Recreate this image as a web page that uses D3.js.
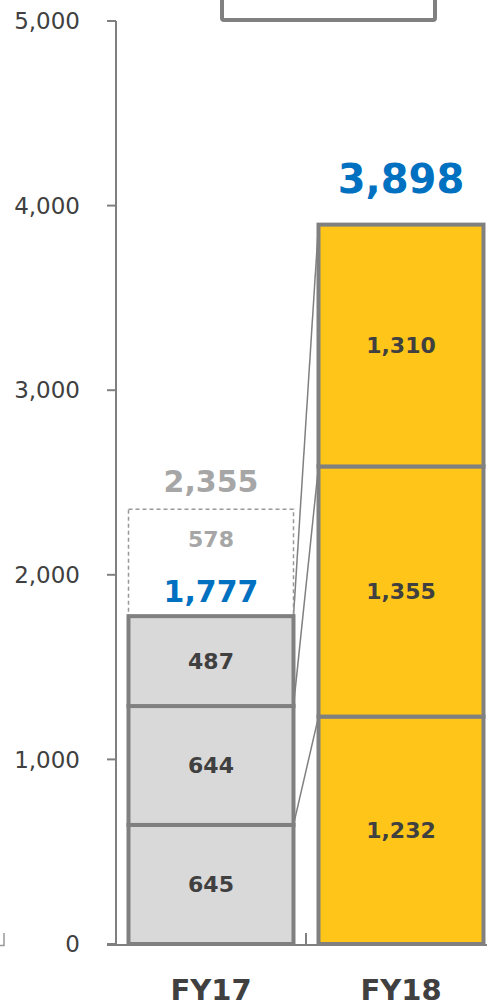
<!DOCTYPE html>
<html>
<head>
<script src="https://cdnjs.cloudflare.com/ajax/libs/d3/7.8.5/d3.min.js"></script>
<style>
  body { margin: 0; background: #fff; }
  text { font-family: "DejaVu Sans", Verdana, sans-serif; }
</style>
</head>
<body>
<div id="vis"></div>
<script>
const categories = ["FY17", "FY18"];
const fy17Parts = [645, 644, 487];
const fy18Parts = [1232, 1355, 1310];
const fy17Total = 1777;
const fy18Total = 3898;
const fy17Extra = 578;
const fy17Outlook = 2355;
const yTicks = [0, 1000, 2000, 3000, 4000, 5000];

const W = 487, H = 1007;
const svg = d3.select("#vis").append("svg").attr("width", W).attr("height", H);

const y = d3.scaleLinear().domain([0, 5000]).range([944, 21]);
const x = d3.scaleBand().domain(categories).range([116, 496])
    .paddingInner(0.1316).paddingOuter(0.0658);

const grey = "#808080";

// legend box cut off at the top
svg.append("rect")
    .attr("x", 222).attr("y", -12).attr("width", 213).attr("height", 32)
    .attr("rx", 2)
    .style("fill", "#fff").style("stroke", grey).style("stroke-width", 4);

// little hook at bottom left
svg.append("path").attr("d", "M0,945.5 H4 V933")
    .style("fill", "none").style("stroke", "#999").style("stroke-width", 1.5);

// y axis
svg.append("line").attr("x1", 116).attr("x2", 116).attr("y1", y(5000)).attr("y2", y(0))
    .style("stroke", grey).style("stroke-width", 2);
svg.selectAll(".ytick").data(yTicks).enter().append("line")
    .attr("x1", 107).attr("x2", 116).attr("y1", d => y(d)).attr("y2", d => y(d))
    .style("stroke", grey).style("stroke-width", 2);
svg.selectAll(".ylab").data(yTicks).enter().append("text")
    .attr("x", 80).attr("y", d => y(d)).attr("dy", "0.36em")
    .attr("text-anchor", "end")
    .style("font-size", "23px").style("fill", "#404040")
    .text(d => d3.format(",")(d));

// x axis baseline + category divider tick
svg.append("line").attr("x1", 107).attr("x2", W).attr("y1", y(0) + 1).attr("y2", y(0) + 1)
    .style("stroke", grey).style("stroke-width", 2);
const divX = x("FY17") + x.bandwidth() + (x.step() - x.bandwidth()) / 2;
svg.append("line")
    .attr("x1", divX).attr("x2", divX)
    .attr("y1", y(0) - 11).attr("y2", y(0))
    .style("stroke", grey).style("stroke-width", 2);

function stack(parts) {
  let acc = 0;
  return parts.map(v => { const s = {v: v, y0: acc, y1: acc + v}; acc += v; return s; });
}
const s17 = stack(fy17Parts), s18 = stack(fy18Parts);

// connector lines
const x17r = x("FY17") + x.bandwidth(), x18l = x("FY18");
svg.selectAll(".conn").data(d3.range(3)).enter().append("line")
    .attr("x1", x17r).attr("y1", i => y(s17[i].y1))
    .attr("x2", x18l).attr("y2", i => y(s18[i].y1))
    .style("stroke", grey).style("stroke-width", 1.5);

// dashed outlook box
svg.append("rect")
    .attr("x", x("FY17")).attr("y", y(fy17Outlook))
    .attr("width", x.bandwidth()).attr("height", y(fy17Total) - y(fy17Outlook))
    .style("fill", "none").style("stroke", "#999").style("stroke-width", 1.5)
    .style("stroke-dasharray", "4,3");

function drawBar(cat, segs, fill) {
  svg.selectAll(".seg-" + cat).data(segs).enter().append("rect")
      .attr("x", x(cat)).attr("y", d => y(d.y1))
      .attr("width", x.bandwidth()).attr("height", d => y(d.y0) - y(d.y1))
      .style("fill", fill).style("stroke", grey).style("stroke-width", 4);
  svg.selectAll(".lab-" + cat).data(segs).enter().append("text")
      .attr("x", x(cat) + x.bandwidth() / 2)
      .attr("y", d => (y(d.y0) + y(d.y1)) / 2).attr("dy", "0.36em")
      .attr("text-anchor", "middle")
      .style("font-size", "22px").style("font-weight", "bold").style("fill", "#404040")
      .text(d => d3.format(",")(d.v));
}
drawBar("FY17", s17, "#d9d9d9");
drawBar("FY18", s18, "#ffc619");

const fmt = d3.format(",");
function label(cat, val, yy, size, color) {
  svg.append("text")
      .attr("x", x(cat) + x.bandwidth() / 2).attr("y", yy).attr("dy", "0.36em")
      .attr("text-anchor", "middle")
      .style("font-size", size + "px").style("font-weight", "bold").style("fill", color)
      .text(fmt(val));
}
label("FY17", fy17Extra, y(fy17Total) - 77, 22, "#a6a6a6");
label("FY17", fy17Total, y(fy17Total) - 25, 30, "#0070c0");
label("FY17", fy17Outlook, y(fy17Outlook) - 28, 30, "#a6a6a6");
label("FY18", fy18Total, y(fy18Total) - 46, 40, "#0070c0");

// category labels
svg.selectAll(".cat").data(categories).enter().append("text")
    .attr("x", d => x(d) + x.bandwidth() / 2).attr("y", 1000)
    .attr("text-anchor", "middle")
    .style("font-size", "29px").style("font-weight", "bold").style("fill", "#404040")
    .text(d => d);
</script>
</body>
</html>
